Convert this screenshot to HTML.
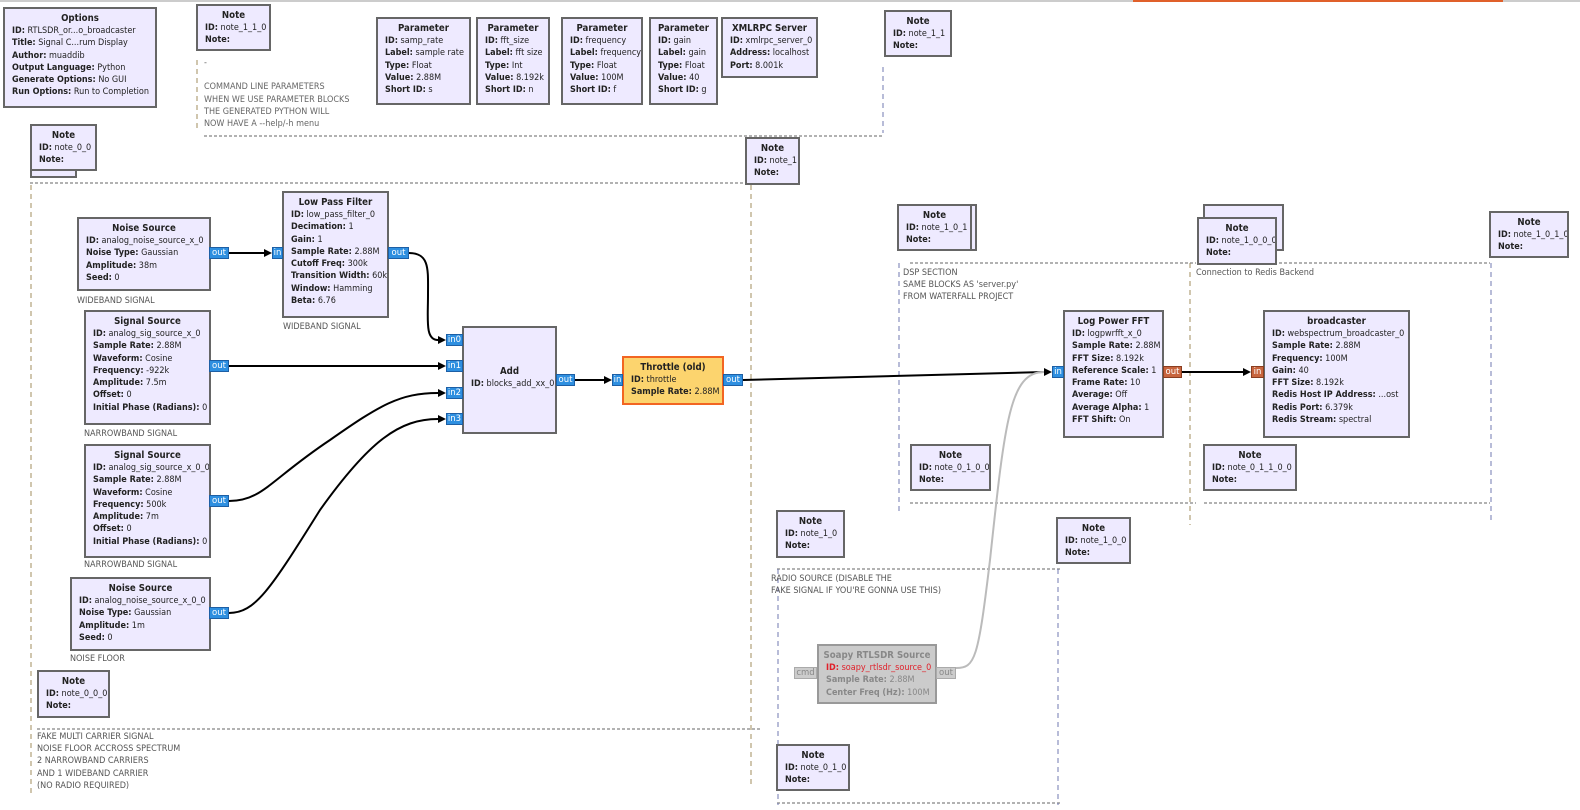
<!DOCTYPE html>
<html><head><meta charset="utf-8"><style>
body{margin:0;width:1580px;height:810px;background:#fff;position:relative;overflow:hidden;font-family:"DejaVu Sans Condensed","Liberation Sans Narrow","Liberation Sans",sans-serif;}
.b{position:absolute;box-sizing:border-box;background:#eeeaff;border:2px solid #666;padding:3px 0 0 7px;font-size:9px;line-height:12.3px;color:#222;white-space:nowrap;overflow:hidden}
.b .t{font-weight:bold;text-align:center;font-size:9.6px;line-height:13px;margin-left:-7px;margin-bottom:0px}
.b b{font-weight:bold}
.p{position:absolute;box-sizing:border-box;background:#2e8fe0;border:1px solid #1d5fa5;color:#fff;font-size:8.5px;line-height:10px;height:12px;text-align:center;font-family:"DejaVu Sans","Liberation Sans",sans-serif}
.o{background:#c8653e;border-color:#8a3d20}
.c{position:absolute;font-size:9px;line-height:12.2px;color:#555;white-space:nowrap;font-family:"DejaVu Sans Condensed","Liberation Sans",sans-serif}
svg{position:absolute;left:0;top:0}
</style></head><body>
<div style="position:absolute;left:0;top:0;width:1580px;height:2px;background:#ccc"></div>
<div style="position:absolute;left:1133px;top:0;width:370px;height:2px;background:#e0602a"></div>

<svg width="1580" height="810">
<g fill="none" stroke-width="1" stroke-dasharray="3,2">
<g stroke="#666">
<line x1="204" y1="136" x2="883" y2="136"/>
<line x1="30" y1="183" x2="745" y2="183"/>
<line x1="37" y1="729" x2="760" y2="729"/>
<line x1="910" y1="263" x2="1196" y2="263"/>
<line x1="1204" y1="263" x2="1490" y2="263"/>
<line x1="910" y1="503" x2="1196" y2="503"/>
<line x1="1204" y1="503" x2="1490" y2="503"/>
<line x1="777" y1="569" x2="1062" y2="569"/>
<line x1="777" y1="803" x2="1062" y2="803"/>
</g>
<g stroke="#a08c5c" stroke-dasharray="5,4">
<line x1="31" y1="185" x2="31" y2="795"/>
<line x1="751" y1="185" x2="751" y2="785"/>
<line x1="197" y1="60" x2="197" y2="130"/>
<line x1="1190" y1="263" x2="1190" y2="525"/>
</g>
<g stroke="#7078b0" stroke-dasharray="5,4">
<line x1="883" y1="67" x2="883" y2="133"/>
<line x1="899" y1="263" x2="899" y2="515"/>
<line x1="1491" y1="263" x2="1491" y2="522"/>
<line x1="1058" y1="569" x2="1058" y2="805"/>
<line x1="778" y1="569" x2="778" y2="805"/>
</g>
</g>
<g fill="none" stroke="#000" stroke-width="2">
<path d="M229 253 L264 253"/>
<path d="M409 253 C430 253 428 270 428 295 C428 320 425 340 438 340"/>
<path d="M229 366 L438 366"/>
<path d="M229 501 C262 501 270 480 330 440 C380 405 400 393 438 393"/>
<path d="M229 613 C255 613 270 590 320 510 C370 440 400 419 438 419"/>
<path d="M575 380 L604 380"/>
<path d="M743 380 L1044 372"/>
<path d="M1182 372 L1243 372"/>
</g>
<path d="M956 668 C975 668 978 660 990 560 C1005 420 1010 372 1044 372" fill="none" stroke="#bbb" stroke-width="2"/>
<g fill="#000">
<path d="M272 253 l-8 -4 v8z"/><path d="M446 340 l-8 -4 v8z"/><path d="M446 366 l-8 -4 v8z"/><path d="M446 393 l-8 -4 v8z"/><path d="M446 419 l-8 -4 v8z"/><path d="M612 380 l-8 -4 v8z"/><path d="M1052 372 l-8 -4 v8z"/><path d="M1251 372 l-8 -4 v8z"/>
</g>
</svg>

<!-- comments -->
<div class="c" style="left:204px;top:57px;color:#666">-<br><br>COMMAND LINE PARAMETERS<br>WHEN WE USE PARAMETER BLOCKS<br>THE GENERATED PYTHON WILL<br>NOW HAVE A --help/-h menu</div>
<div class="c" style="left:77px;top:295px">WIDEBAND SIGNAL</div>
<div class="c" style="left:283px;top:321px">WIDEBAND SIGNAL</div>
<div class="c" style="left:84px;top:428px">NARROWBAND SIGNAL</div>
<div class="c" style="left:84px;top:559px">NARROWBAND SIGNAL</div>
<div class="c" style="left:70px;top:653px">NOISE FLOOR</div>
<div class="c" style="left:37px;top:731px">FAKE MULTI CARRIER SIGNAL<br>NOISE FLOOR ACCROSS SPECTRUM<br>2 NARROWBAND CARRIERS<br>AND 1 WIDEBAND CARRIER<br>(NO RADIO REQUIRED)</div>
<div class="c" style="left:903px;top:267px">DSP SECTION<br>SAME BLOCKS AS 'server.py'<br>FROM WATERFALL PROJECT</div>
<div class="c" style="left:1196px;top:267px">Connection to Redis Backend</div>
<div class="c" style="left:771px;top:573px">RADIO SOURCE (DISABLE THE<br>FAKE SIGNAL IF YOU'RE GONNA USE THIS)</div>

<!-- blocks -->
<div class="b" style="left:3px;top:7px;width:154px;height:101px"><div class="t">Options</div><b>ID:</b> RTLSDR_or...o_broadcaster<br><b>Title:</b> Signal C...rum Display<br><b>Author:</b> muaddib<br><b>Output Language:</b> Python<br><b>Generate Options:</b> No GUI<br><b>Run Options:</b> Run to Completion</div>
<div class="b" style="left:196px;top:4px;width:75px;height:47px"><div class="t">Note</div><b>ID:</b> note_1_1_0<br><b>Note:</b></div>
<div class="b" style="left:376px;top:17px;width:95px;height:88px"><div class="t">Parameter</div><b>ID:</b> samp_rate<br><b>Label:</b> sample rate<br><b>Type:</b> Float<br><b>Value:</b> 2.88M<br><b>Short ID:</b> s</div>
<div class="b" style="left:476px;top:17px;width:74px;height:88px"><div class="t">Parameter</div><b>ID:</b> fft_size<br><b>Label:</b> fft size<br><b>Type:</b> Int<br><b>Value:</b> 8.192k<br><b>Short ID:</b> n</div>
<div class="b" style="left:561px;top:17px;width:82px;height:88px"><div class="t">Parameter</div><b>ID:</b> frequency<br><b>Label:</b> frequency<br><b>Type:</b> Float<br><b>Value:</b> 100M<br><b>Short ID:</b> f</div>
<div class="b" style="left:649px;top:17px;width:69px;height:88px"><div class="t">Parameter</div><b>ID:</b> gain<br><b>Label:</b> gain<br><b>Type:</b> Float<br><b>Value:</b> 40<br><b>Short ID:</b> g</div>
<div class="b" style="left:721px;top:17px;width:97px;height:61px"><div class="t">XMLRPC Server</div><b>ID:</b> xmlrpc_server_0<br><b>Address:</b> localhost<br><b>Port:</b> 8.001k</div>
<div class="b" style="left:884px;top:10px;width:68px;height:47px"><div class="t">Note</div><b>ID:</b> note_1_1<br><b>Note:</b></div>
<div class="b" style="left:745px;top:137px;width:55px;height:48px"><div class="t">Note</div><b>ID:</b> note_1<br><b>Note:</b></div>
<div class="b" style="left:30px;top:131px;width:47px;height:47px"></div>
<div class="b" style="left:30px;top:124px;width:67px;height:47px"><div class="t">Note</div><b>ID:</b> note_0_0<br><b>Note:</b></div>

<div class="b" style="left:77px;top:217px;width:134px;height:74px"><div class="t">Noise Source</div><b>ID:</b> analog_noise_source_x_0<br><b>Noise Type:</b> Gaussian<br><b>Amplitude:</b> 38m<br><b>Seed:</b> 0</div>
<div class="p" style="left:209px;top:247px;width:20px">out</div>
<div class="b" style="left:282px;top:191px;width:107px;height:127px"><div class="t">Low Pass Filter</div><b>ID:</b> low_pass_filter_0<br><b>Decimation:</b> 1<br><b>Gain:</b> 1<br><b>Sample Rate:</b> 2.88M<br><b>Cutoff Freq:</b> 300k<br><b>Transition Width:</b> 60k<br><b>Window:</b> Hamming<br><b>Beta:</b> 6.76</div>
<div class="p" style="left:272px;top:247px;width:11px">in</div>
<div class="p" style="left:388px;top:247px;width:21px">out</div>

<div class="b" style="left:84px;top:310px;width:127px;height:115px"><div class="t">Signal Source</div><b>ID:</b> analog_sig_source_x_0<br><b>Sample Rate:</b> 2.88M<br><b>Waveform:</b> Cosine<br><b>Frequency:</b> -922k<br><b>Amplitude:</b> 7.5m<br><b>Offset:</b> 0<br><b>Initial Phase (Radians):</b> 0</div>
<div class="p" style="left:209px;top:360px;width:20px">out</div>
<div class="b" style="left:84px;top:444px;width:127px;height:114px"><div class="t">Signal Source</div><b>ID:</b> analog_sig_source_x_0_0<br><b>Sample Rate:</b> 2.88M<br><b>Waveform:</b> Cosine<br><b>Frequency:</b> 500k<br><b>Amplitude:</b> 7m<br><b>Offset:</b> 0<br><b>Initial Phase (Radians):</b> 0</div>
<div class="p" style="left:209px;top:495px;width:20px">out</div>
<div class="b" style="left:70px;top:577px;width:141px;height:74px"><div class="t">Noise Source</div><b>ID:</b> analog_noise_source_x_0_0<br><b>Noise Type:</b> Gaussian<br><b>Amplitude:</b> 1m<br><b>Seed:</b> 0</div>
<div class="p" style="left:209px;top:607px;width:20px">out</div>
<div class="b" style="left:37px;top:670px;width:73px;height:48px"><div class="t">Note</div><b>ID:</b> note_0_0_0<br><b>Note:</b></div>

<div class="b" style="left:462px;top:326px;width:95px;height:108px;padding-top:37px"><div class="t">Add</div><b>ID:</b> blocks_add_xx_0</div>
<div class="p" style="left:446px;top:334px;width:17px">in0</div>
<div class="p" style="left:446px;top:360px;width:17px">in1</div>
<div class="p" style="left:446px;top:387px;width:17px">in2</div>
<div class="p" style="left:446px;top:413px;width:17px">in3</div>
<div class="p" style="left:556px;top:374px;width:19px">out</div>
<div class="b" style="left:622px;top:356px;width:102px;height:49px;background:#fcd46e;border-color:#f26522"><div class="t">Throttle (old)</div><b>ID:</b> throttle<br><b>Sample Rate:</b> 2.88M</div>
<div class="p" style="left:612px;top:374px;width:11px">in</div>
<div class="p" style="left:723px;top:374px;width:20px">out</div>

<div class="b" style="left:903px;top:204px;width:74px;height:47px"></div>
<div class="b" style="left:897px;top:204px;width:75px;height:47px"><div class="t">Note</div><b>ID:</b> note_1_0_1<br><b>Note:</b></div>
<div class="b" style="left:1203px;top:204px;width:81px;height:47px"></div>
<div class="b" style="left:1197px;top:217px;width:80px;height:48px"><div class="t">Note</div><b>ID:</b> note_1_0_0_0<br><b>Note:</b></div>
<div class="b" style="left:1489px;top:211px;width:80px;height:47px"><div class="t">Note</div><b>ID:</b> note_1_0_1_0<br><b>Note:</b></div>

<div class="b" style="left:1063px;top:310px;width:101px;height:128px"><div class="t">Log Power FFT</div><b>ID:</b> logpwrfft_x_0<br><b>Sample Rate:</b> 2.88M<br><b>FFT Size:</b> 8.192k<br><b>Reference Scale:</b> 1<br><b>Frame Rate:</b> 10<br><b>Average:</b> Off<br><b>Average Alpha:</b> 1<br><b>FFT Shift:</b> On</div>
<div class="p" style="left:1052px;top:366px;width:12px">in</div>
<div class="p o" style="left:1163px;top:366px;width:19px">out</div>
<div class="b" style="left:1263px;top:310px;width:147px;height:128px"><div class="t">broadcaster</div><b>ID:</b> webspectrum_broadcaster_0<br><b>Sample Rate:</b> 2.88M<br><b>Frequency:</b> 100M<br><b>Gain:</b> 40<br><b>FFT Size:</b> 8.192k<br><b>Redis Host IP Address:</b> ...ost<br><b>Redis Port:</b> 6.379k<br><b>Redis Stream:</b> spectral</div>
<div class="p o" style="left:1251px;top:366px;width:13px">in</div>
<div class="b" style="left:910px;top:444px;width:81px;height:47px"><div class="t">Note</div><b>ID:</b> note_0_1_0_0<br><b>Note:</b></div>
<div class="b" style="left:1203px;top:444px;width:94px;height:47px"><div class="t">Note</div><b>ID:</b> note_0_1_1_0_0<br><b>Note:</b></div>

<div class="b" style="left:776px;top:510px;width:69px;height:48px"><div class="t">Note</div><b>ID:</b> note_1_0<br><b>Note:</b></div>
<div class="b" style="left:1056px;top:517px;width:75px;height:47px"><div class="t">Note</div><b>ID:</b> note_1_0_0<br><b>Note:</b></div>
<div class="b" style="left:817px;top:644px;width:120px;height:60px;background:#cbcbcb;border-color:#999;color:#888"><div class="t" style="color:#888">Soapy RTLSDR Source</div><b style="color:#e0202a">ID:</b> <span style="color:#e0202a">soapy_rtlsdr_source_0</span><br><b>Sample Rate:</b> 2.88M<br><b>Center Freq (Hz):</b> 100M</div>
<div class="p" style="left:794px;top:667px;width:23px;background:#ccc;border-color:#aaa;color:#888">cmd</div>
<div class="p" style="left:936px;top:667px;width:20px;background:#ccc;border-color:#aaa;color:#888">out</div>
<div class="b" style="left:776px;top:744px;width:74px;height:47px"><div class="t">Note</div><b>ID:</b> note_0_1_0<br><b>Note:</b></div>
</body></html>
